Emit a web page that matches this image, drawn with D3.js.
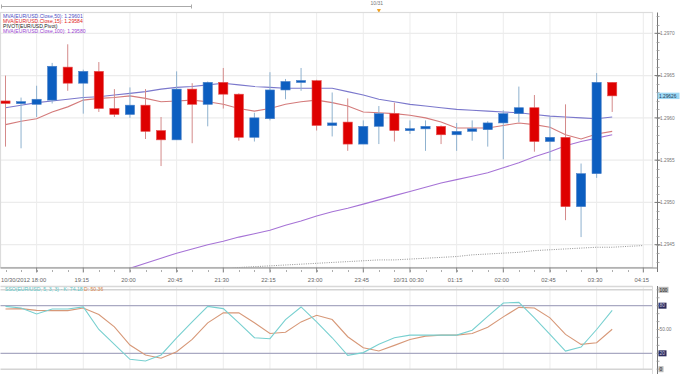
<!DOCTYPE html>
<html><head><meta charset="utf-8">
<script src="https://cdn.jsdelivr.net/npm/d3@7"></script>
<style>
body{margin:0;background:#fff;}
svg{display:block;font-family:"Liberation Sans",Arial,sans-serif;}
</style></head><body>
<svg id="c" width="680" height="374"></svg>
<script>
// ---- data ----
const openP  = [1.29620,1.29617,1.29616,1.29621,1.29660,1.29641,1.29655,1.29611,1.29604,1.29615,
                1.29585,1.29574,1.29634,1.29616,1.29642,1.29628,1.29577,1.29599,1.29633,1.29642,
                1.29644,1.29591,1.29595,1.29569,1.29590,1.29605,1.29585,1.29587,1.29590,1.29580,
                1.29584,1.29586,1.29594,1.29605,1.29612,1.29572,1.29577,1.29495,1.29534,1.29642];
const closeP = [1.29617,1.29619,1.29622,1.29661,1.29641,1.29655,1.29611,1.29604,1.29615,1.29584,
                1.29574,1.29634,1.29616,1.29642,1.29628,1.29577,1.29600,1.29633,1.29643,1.29644,
                1.29591,1.29594,1.29569,1.29590,1.29605,1.29585,1.29587,1.29590,1.29580,1.29584,
                1.29587,1.29594,1.29605,1.29612,1.29572,1.29577,1.29495,1.29534,1.29642,1.29626];
const highP  = [1.29650,1.29624,1.29638,1.29665,1.29687,1.29657,1.29666,1.29634,1.29636,1.29634,
                1.29601,1.29655,1.29641,1.29643,1.29659,1.29629,1.29606,1.29654,1.29646,1.29659,
                1.29645,1.29630,1.29623,1.29597,1.29614,1.29618,1.29597,1.29597,1.29591,1.29594,
                1.29597,1.29596,1.29609,1.29637,1.29627,1.29601,1.29616,1.29546,1.29653,1.29642];
const lowP   = [1.29566,1.29564,1.29601,1.29617,1.29632,1.29605,1.29607,1.29601,1.29600,1.29575,
                1.29543,1.29574,1.29570,1.29590,1.29611,1.29573,1.29572,1.29597,1.29622,1.29632,
                1.29585,1.29578,1.29561,1.29569,1.29569,1.29572,1.29581,1.29561,1.29569,1.29561,
                1.29573,1.29566,1.29551,1.29595,1.29560,1.29549,1.29479,1.29459,1.29529,1.29607];
const mva50  = [1.29612,1.29615,1.29618,1.29620,1.29622,1.29624,1.29625,1.29627,1.29629,1.29631,
                1.29634,1.29636,1.29637,1.29639,1.29641,1.29639,1.29637,1.29636,1.29635,1.29635,
                1.29635,1.29635,1.29631,1.29627,1.29622,1.29619,1.29616,1.29614,1.29612,1.29610,
                1.29609,1.29608,1.29607,1.29606,1.29604,1.29602,1.29601,1.29600,1.29599,1.29601];
const mva15  = [1.29592,1.29596,1.29599,1.29607,1.29613,1.29621,1.29623,1.29624,1.29626,1.29623,
                1.29619,1.29620,1.29621,1.29619,1.29616,1.29611,1.29608,1.29611,1.29616,1.29619,
                1.29621,1.29618,1.29614,1.29607,1.29606,1.29605,1.29603,1.29600,1.29595,1.29588,
                1.29588,1.29588,1.29591,1.29594,1.29592,1.29589,1.29580,1.29575,1.29581,1.29584];
const mva100 = [null,null,null,null,null,null,null,null,
                1.29422,1.29428,1.29434,1.29440,1.29445,1.29450,1.29454,1.29459,1.29463,1.29467,
                1.29473,1.29478,1.29484,1.29489,1.29493,1.29498,1.29503,1.29508,1.29513,1.29518,
                1.29523,1.29527,1.29531,1.29535,1.29541,1.29547,1.29554,1.29560,1.29567,1.29572,
                1.29576,1.29580];
const pivot  = [null,null,null,null,null,null,null,null,null,null,null,null,null,null,
                1.29421,1.29423,1.29424,1.29425,1.29426,1.29427,1.29428,1.29429,1.29430,1.29431,
                1.29432,1.29432,1.29433,1.29434,1.29435,1.29436,1.29438,1.29439,1.29440,1.29441,
                1.29443,1.29444,1.29445,1.29446,1.29447,1.29447,1.29448,1.29449];
const stochK = [79.1,77.1,69.6,75.9,75.9,78.4,50,31.3,12.5,10.4,17.9,39.6,59.6,79.1,76.3,58.4,39.6,38.4,62.5,78.4,
                59.6,39.6,17.5,20.9,31.3,39.6,42.9,42.9,42.9,42.9,49.1,66.6,83.4,84.1,64.6,43.8,22.9,27.9,50,74.18];
const stochD = [75.9,76.3,74.1,73.8,73.8,77.1,68.8,53.4,30.4,17.9,13.8,22.1,37.5,58.4,70.9,70.9,58.4,45,46.6,59.6,
                67.9,62.5,40.9,27.1,22.9,30,37.5,41.6,42.9,42.9,45,52.9,65.9,77.9,77.1,64.6,43.8,31.3,33.4,50.36];
const timeTickIdx  = [0,5,8,11,14,17,20,23,26,29,32,35,38,41];
const timeTickText = ["10/30/2012 18:00","19:15","20:00","20:45","21:30","22:15","23:00","23:45",
                      "10/31 00:30","01:15","02:00","02:45","03:30","04:15"];
const gridIdx = [2,5,8,11,14,17,20,23,26,29,32,35,38,41];
const priceTicks = [1.2945,1.2950,1.2955,1.2960,1.2965,1.2970];
const priceTickText = ["1.2945","1.2950","1.2955","1.2960","1.2965","1.2970"];
const stochTicks = [100,80,50,20,0];
const stochTickText = ["100","80","50.00","20","0"];
const lastPrice = 1.29626;
const dayMarkIdx = 24, dayMarkText = "10/31";
const legendMain = [
  ["MVA(EUR/USD.Close,50): 1.29601","#4d4dc4"],
  ["MVA(EUR/USD.Close,15): 1.29584","#e02222"],
  ["PIVOT(EUR/USD,Pivot)","#222"],
  ["MVA(EUR/USD.Close,100): 1.29580","#9a3fd2"]
];

// ---- scales ----
const svg = d3.select("#c");
const x  = d3.scaleLinear().domain([0,41]).range([5.5,643.3]);
const y  = d3.scaleLinear().domain([1.2945,1.2970]).range([244.7,33.3]);
const ys = d3.scaleLinear().domain([0,100]).range([369.2,289.8]);
const pL=0.5, pR=652.5, pT=12.5, pB=267.5;
const axX = 657.5;
const idx = d3.range(openP.length);

// clip
svg.append("defs").append("clipPath").attr("id","mainclip")
  .append("rect").attr("x",pL).attr("y",pT).attr("width",pR-pL).attr("height",pB-pT);

// top strip
svg.append("line").attr("x1",1).attr("x2",192).attr("y1",6.5).attr("y2",6.5).attr("stroke","#aaa");
svg.append("line").attr("x1",1.5).attr("x2",1.5).attr("y1",4.5).attr("y2",8.5).attr("stroke","#aaa");
svg.append("line").attr("x1",191.5).attr("x2",191.5).attr("y1",4.5).attr("y2",8.5).attr("stroke","#aaa");
svg.append("text").attr("x",x(dayMarkIdx)-2).attr("y",5).attr("text-anchor","middle")
  .attr("font-size",5).attr("fill","#777").text(dayMarkText);
svg.append("path").attr("d",`M${x(dayMarkIdx)-2},9 h4 l-2,4 z`).attr("fill","#f0a020");

// main plot grid
const g = svg.append("g");
g.selectAll(".vg").data(gridIdx).enter().append("line")
  .attr("x1",d=>x(d)).attr("x2",d=>x(d)).attr("y1",pT).attr("y2",pB)
  .attr("stroke","#ececec").attr("stroke-width",1);
g.selectAll(".hg").data(priceTicks).enter().append("line")
  .attr("x1",pL).attr("x2",pR).attr("y1",d=>y(d)).attr("y2",d=>y(d))
  .attr("stroke","#ececec").attr("stroke-width",1.2);
g.append("rect").attr("x",pL).attr("y",pT).attr("width",pR-pL).attr("height",pB-pT)
  .attr("fill","none").attr("stroke","#dcdcdc").attr("stroke-width",1.2);

// lines
const plot = svg.append("g").attr("clip-path","url(#mainclip)");
const lineOf = arr => d3.line().defined(i=>arr[i]!=null).x(i=>x(i)).y(i=>y(arr[i]));
const pivIdx = d3.range(pivot.length);
plot.append("path").attr("d",lineOf(pivot)(pivIdx)).attr("fill","none")
  .attr("stroke","#888").attr("stroke-width",0.9).attr("stroke-dasharray","1,1.3");
plot.append("path").attr("d",lineOf(mva100)(idx)).attr("fill","none")
  .attr("stroke","#a673d6").attr("stroke-width",1.1);
plot.append("path").attr("d",lineOf(mva50)(idx)).attr("fill","none")
  .attr("stroke","#7b78cc").attr("stroke-width",1.1);
plot.append("path").attr("d",lineOf(mva15)(idx)).attr("fill","none")
  .attr("stroke","#d47b7b").attr("stroke-width",1.1);

// candles
const up = i => closeP[i] >= openP[i];
const c = plot.selectAll(".cdl").data(idx).enter().append("g");
c.append("line").attr("x1",i=>x(i)).attr("x2",i=>x(i))
  .attr("y1",i=>y(highP[i])).attr("y2",i=>y(lowP[i]))
  .attr("stroke",i=>up(i)?"#8fb2cf":"#d48a8a").attr("stroke-width",1);
c.append("rect")
  .attr("x",i=>x(i)-4.6).attr("width",9.2)
  .attr("y",i=>{const t=y(Math.max(openP[i],closeP[i])),b=y(Math.min(openP[i],closeP[i]));return b-t<2?(t+b)/2-1:t;})
  .attr("height",i=>Math.max(2,Math.abs(y(openP[i])-y(closeP[i]))))
  .attr("fill",i=>up(i)?"#0c5ec0":"#de0000")
  .attr("stroke",i=>up(i)?"#4a80c8":"#e65050").attr("stroke-width",0.6);

// legend
svg.selectAll(".lg").data(legendMain).enter().append("text")
  .attr("x",3).attr("y",(d,i)=>[17.5,22.8,28.1,33.4][i])
  .attr("font-size",5.1).attr("fill",d=>d[1]).text(d=>d[0]);

// right price axis
const yMinor = d3.range(1.2943,1.29725,0.0001);
const ax = svg.append("g").attr("transform",`translate(${axX},0)`);
ax.append("line").attr("x1",0).attr("x2",0).attr("y1",pT).attr("y2",272).attr("stroke","#777");
ax.selectAll(".mt").data(yMinor).enter().append("line")
  .attr("x1",-1).attr("x2",2).attr("y1",d=>Math.round(y(d))+0.5).attr("y2",d=>Math.round(y(d))+0.5)
  .attr("stroke","#999").attr("stroke-width",0.8);
ax.selectAll(".Mt").data(priceTicks).enter().append("line")
  .attr("x1",-3).attr("x2",3).attr("y1",d=>y(d)).attr("y2",d=>y(d)).attr("stroke","#777");
ax.selectAll(".pl").data(priceTicks).enter().append("text")
  .attr("x",2.5).attr("y",d=>y(d)+1.7).attr("font-size",4.8).attr("fill","#777")
  .text((d,i)=>priceTickText[i]);
ax.append("rect").attr("x",0).attr("y",y(lastPrice)-3.2).attr("width",22).attr("height",6.4).attr("fill","#9ed8f4");
ax.append("text").attr("x",1.5).attr("y",y(lastPrice)+1.7).attr("font-size",4.8).attr("fill","#1c3a5a").text(lastPrice.toFixed(5));

// time axis
const tAx = svg.append("g");
tAx.append("line").attr("x1",pL).attr("x2",axX).attr("y1",pB+0.5).attr("y2",pB+0.5).attr("stroke","#888");
tAx.selectAll(".tm").data(d3.range(0,42)).enter().append("line")
  .attr("x1",d=>Math.round(x(d))+0.5).attr("x2",d=>Math.round(x(d))+0.5).attr("y1",pB+2.5).attr("y2",pB+4.5)
  .attr("stroke","#999").attr("stroke-width",0.8);
tAx.selectAll(".tM").data(gridIdx).enter().append("line")
  .attr("x1",d=>x(d)).attr("x2",d=>x(d)).attr("y1",pB).attr("y2",pB+5).attr("stroke","#888");
tAx.selectAll(".tl").data(timeTickIdx).enter().append("text")
  .attr("x",(d,i)=>i===0?1:x(d)-1.5).attr("y",281.5)
  .attr("text-anchor",(d,i)=>i===0?"start":"middle")
  .attr("font-size",5.8).attr("fill","#666").text((d,i)=>timeTickText[i]);

// stochastic panel
const sp = svg.append("g");
sp.append("line").attr("x1",pL).attr("x2",pR).attr("y1",286.5).attr("y2",286.5).attr("stroke","#d8d8d8").attr("stroke-width",1.5);
sp.selectAll(".svg").data(gridIdx).enter().append("line")
  .attr("x1",d=>x(d)).attr("x2",d=>x(d)).attr("y1",287).attr("y2",ys(0))
  .attr("stroke","#ececec");
sp.selectAll(".sh").data([100,0]).enter().append("line")
  .attr("x1",pL).attr("x2",pR).attr("y1",d=>ys(d)).attr("y2",d=>ys(d))
  .attr("stroke","#d4d4d4").attr("stroke-width",1.5);
sp.selectAll(".sl").data([80,20]).enter().append("line")
  .attr("x1",pL).attr("x2",pR).attr("y1",d=>ys(d)).attr("y2",d=>ys(d))
  .attr("stroke","#a9a9c2").attr("stroke-width",1.2);
sp.append("line").attr("x1",pR).attr("x2",pR).attr("y1",286).attr("y2",374).attr("stroke","#dcdcdc");
const sline = arr => d3.line().x(i=>x(i)).y(i=>ys(arr[i]));
sp.append("path").attr("d",sline(stochD)(idx)).attr("fill","none").attr("stroke","#d79878").attr("stroke-width",1.1);
sp.append("path").attr("d",sline(stochK)(idx)).attr("fill","none").attr("stroke","#78d0d0").attr("stroke-width",1.1);
const sLeg = sp.append("text").attr("x",5).attr("y",291).attr("font-size",5.1);
sLeg.append("tspan").attr("fill","#5cc6c6").text("SSO(EUR/USD, 5, 3, 3) - K: "+stochK[stochK.length-1].toFixed(2)+" ");
sLeg.append("tspan").attr("fill","#d8844a").text("D: "+stochD[stochD.length-1].toFixed(2));

const sax = svg.append("g").attr("transform",`translate(${axX},0)`);
sax.append("line").attr("x1",0).attr("x2",0).attr("y1",286).attr("y2",374).attr("stroke","#777");
sax.selectAll(".smt").data(d3.range(0,101,10)).enter().append("line")
  .attr("x1",-1).attr("x2",2).attr("y1",d=>ys(d)).attr("y2",d=>ys(d)).attr("stroke","#999").attr("stroke-width",0.8);
stochTicks.forEach((v,i)=>{
  const boxed = (v===80||v===20), grey=(v===100||v===0);
  if(boxed||grey){
    sax.append("rect").attr("x",1).attr("y",ys(v)-3).attr("width",v===100?10:(v===0?5:8)).attr("height",6)
      .attr("fill",boxed?"#2c2c5c":"#b8b8b8");
  }
  sax.append("text").attr("x",2).attr("y",ys(v)+1.7).attr("font-size",4.8)
    .attr("fill",boxed?"#c8c8e0":(grey?"#222":"#777")).text(stochTickText[i]);
});
</script>
</body></html>
